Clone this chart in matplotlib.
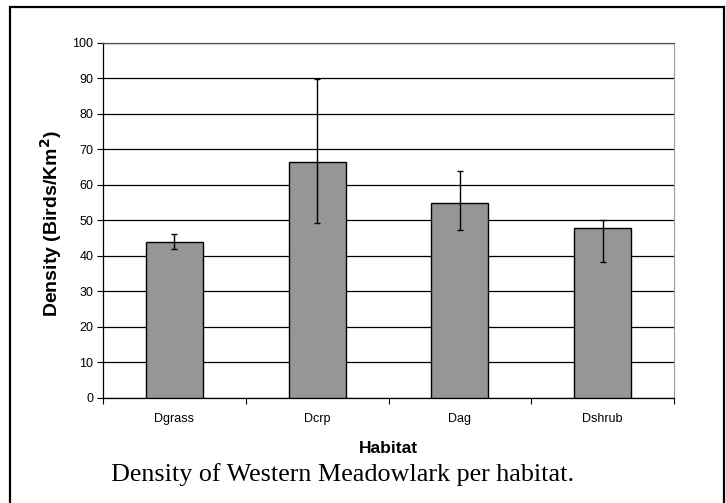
import numpy as np
import matplotlib
matplotlib.use("Agg")
import matplotlib.pyplot as plt
from matplotlib.patches import Rectangle

habitats = ["Dgrass", "Dcrp", "Dag", "Dshrub"]
density = [44.0, 66.4, 55.0, 47.9]
err_low = [41.8, 49.3, 47.4, 38.3]
err_high = [46.1, 89.7, 63.8, 50.1]

plt.rcParams['font.family'] = ['Liberation Sans', 'DejaVu Sans']

W, H = 726, 503
fig = plt.figure(figsize=(W / 100, H / 100), dpi=100)
ax = fig.add_axes([103 / W, 1 - 398 / H, (674 - 103) / W, (398 - 42.7) / H])

x = np.arange(len(habitats))
yerr = np.array([np.subtract(density, err_low), np.subtract(err_high, density)])
ax.bar(x, density, width=0.4, color="#969696", edgecolor="black", linewidth=1, zorder=3)
ax.errorbar(x, density, yerr=yerr, fmt="none", ecolor="black", elinewidth=1,
            capsize=2.3, capthick=1, zorder=4)

ax.set_xlim(-0.5, len(habitats) - 0.5)
ax.set_ylim(0, 100)
ax.set_yticks(np.arange(0, 101, 10))
ax.yaxis.grid(True, color="black", linewidth=0.9, zorder=0)
ax.set_axisbelow(True)

ax.set_xticks(x)
ax.set_xticklabels(habitats)
ax.set_xticks(np.arange(-0.5, len(habitats), 1), minor=True)
ax.tick_params(axis="x", which="major", length=0, pad=11, labelsize=9)
ax.tick_params(axis="x", which="minor", length=4, direction="out", width=0.8)
ax.tick_params(axis="y", length=4, direction="out", width=0.8, labelsize=9, pad=3)

for s in ["left", "bottom"]:
    ax.spines[s].set_color("black")
    ax.spines[s].set_linewidth(0.9)
ax.spines["right"].set_color("#9a9a9a")
ax.spines["top"].set_color("#555555")
ax.spines["top"].set_linewidth(0.9)

fig.text(388 / W, 1 - 453 / H, "Habitat", fontsize=12.5, fontweight="bold",
         ha="center", va="baseline")
fig.text(51 / W, 1 - 224 / H, "Density (Birds/Km$^\\mathbf{2}$)", fontsize=14,
         fontweight="bold", rotation=90, ha="center", va="center")

fig.text(111 / W, 1 - 481 / H, "Density of Western Meadowlark per habitat.",
         fontsize=18.8, family=["Liberation Serif", "DejaVu Serif"], va="baseline", ha="left")

fig.patches.append(Rectangle((10 / W, -0.02), (724 - 10) / W, 1.02 - 7 / H,
                             transform=fig.transFigure, fill=False,
                             edgecolor="black", linewidth=1.6))

fig.savefig("out.png", dpi=100)
